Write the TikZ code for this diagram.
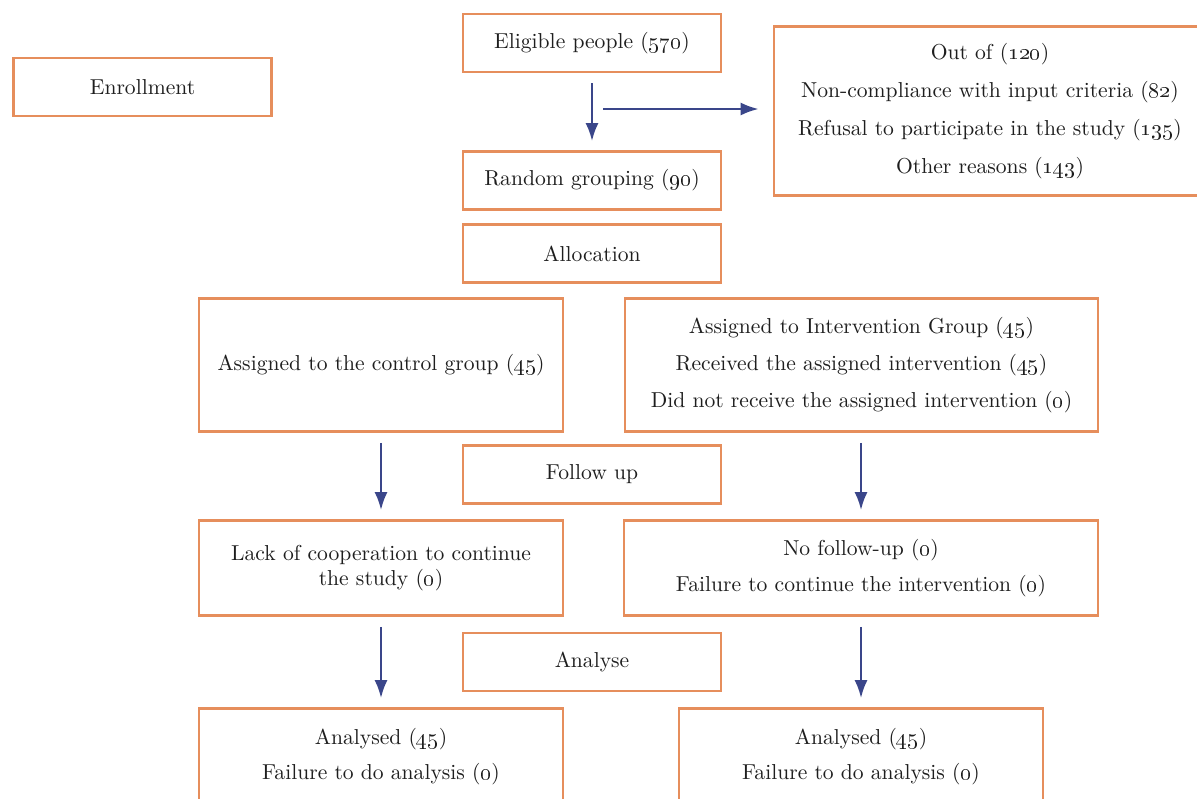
\documentclass[tikz,border=0pt]{standalone}
\usepackage{tikz}
\definecolor{boxorange}{RGB}{230,142,92}
\definecolor{arrowblue}{RGB}{58,70,138}
\definecolor{textgray}{RGB}{30,30,30}
\usetikzlibrary{arrows.meta, positioning}
\newcommand{\tally}[1]{(\oldstylenums{#1})}

\begin{document}
\begin{tikzpicture}[x=0.5pt, y=-0.5pt,
		>={Latex[length=9pt,width=6.5pt]},   % Pfeilspitzen
		box/.style={draw=boxorange, line width=1.3pt, text=textgray, align=center, inner sep=0pt,
			font=\fontsize{10.8}{12.5}\selectfont},
		stage/.style={box, minimum width=129pt, minimum height=29pt},
		arm/.style={box, minimum width=182pt},
		flow/.style={->, draw=arrowblue, line width=1.3pt, shorten <=5pt, shorten >=4.5pt}]
		% Bildbereich
		\useasboundingbox (0,0) rectangle (1197,798);
		\clip (0,0) rectangle (1197,798);
		% Phasen
		\node[stage] (enrol) at (142.5,87) {Enrollment};
		\node[stage] (eligible) at (592,43) {Eligible people \tally{570}};
		\node[stage] (random) at (592,180.5) {Random grouping \tally{90}};
		\node[stage] (alloc) at (592,253.5) {Allocation};
		\node[stage] (follow) at (592,474.5) {Follow up};
		\node[stage] (analyse) at (592,662) {Analyse};
		% Ausgeschlossen
		\node[box, minimum width=216pt, minimum height=84.5pt] (out) at (990,111)
			{Out of \tally{120}\\[6.5pt] Non-compliance with input criteria \tally{82}\\[6.5pt]
			Refusal to participate in the study \tally{135}\\[6.5pt] Other reasons \tally{143}};
		% Gruppen
		\node[arm, minimum height=66.5pt] (control) at (381,365) {Assigned to the control group \tally{45}};
		\node[box, minimum width=236.5pt, minimum height=66.5pt] (interv) at (861.5,365)
			{Assigned to Intervention Group \tally{45}\\[6pt] Received the assigned intervention \tally{45}\\[6pt]
			Did not receive the assigned intervention \tally{0}};
		\node[arm, minimum height=47.5pt] (lack) at (381,568) {Lack of cooperation to continue\\ the study \tally{0}};
		\node[box, minimum width=237pt, minimum height=47.5pt] (nofollow) at (861,568)
			{No follow-up \tally{0}\\[5.5pt] Failure to continue the intervention \tally{0}};
		\node[arm, minimum height=48.5pt] (anaL) at (381,757) {Analysed \tally{45}\\[5pt] Failure to do analysis \tally{0}};
		\node[arm, minimum height=48.5pt] (anaR) at (861,757) {Analysed \tally{45}\\[5pt] Failure to do analysis \tally{0}};
		% Pfeile
		\coordinate (branch) at (603,109);
		\draw[flow] (eligible) -- (random);
		\draw[flow, shorten <=0pt, shorten >=7pt] (branch) -- (out.west |- branch);
		\draw[flow] (control) -- (lack);
		\draw[flow] (interv.south -| nofollow) -- (nofollow);
		\draw[flow] (lack) -- (anaL);
		\draw[flow] (nofollow) -- (anaR);
	\end{tikzpicture}
\end{document}
